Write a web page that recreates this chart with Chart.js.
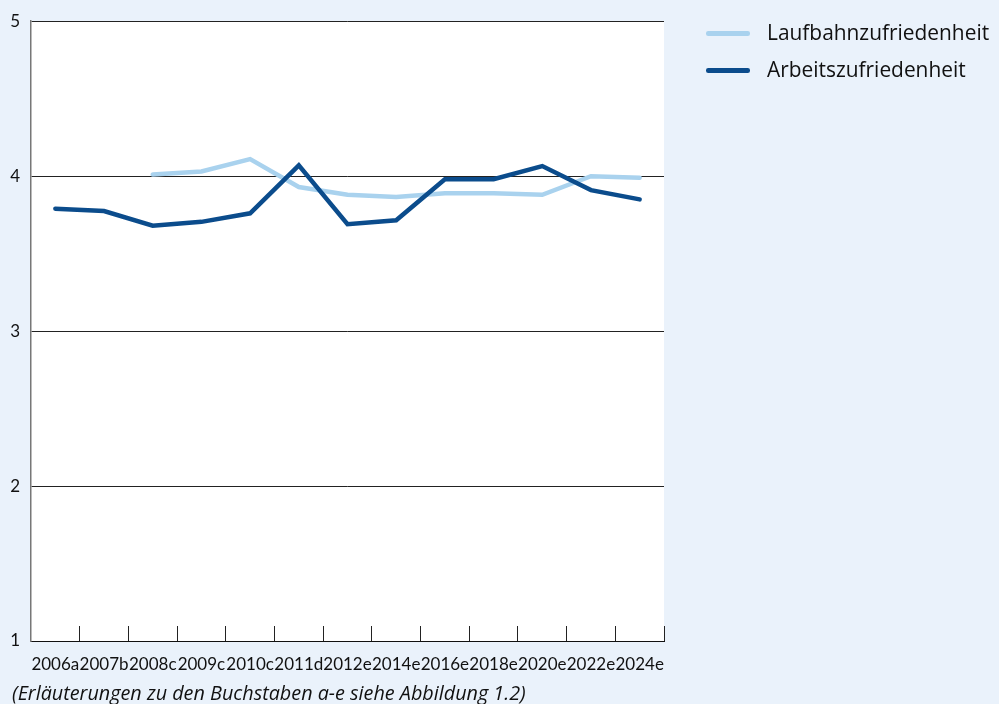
<!DOCTYPE html>
<html>
<head>
<meta charset="utf-8">
<script src="https://cdn.jsdelivr.net/npm/chart.js@4/dist/chart.umd.min.js"></script>
<style>
  html, body { margin: 0; padding: 0; background: #EAF2FB; }
  #wrap { position: relative; width: 999px; height: 704px; overflow: hidden; background: #EAF2FB; }
  canvas { position: absolute; left: 0; top: 0; }
  .leg { position: absolute; left: 706px; font-family: "Open Sans", Lato, sans-serif; font-size: 20.9px; color: #111; }
  .leg span.sw { position: absolute; left: 0; width: 44px; height: 4.5px; border-radius: 2.25px; }
  .leg span.tx { position: absolute; left: 61px; white-space: nowrap; line-height: 24px; top: -13px; }
  #cap { position: absolute; left: 12px; top: 681px; line-height: 24px; font-family: "Open Sans", Lato, sans-serif; font-style: italic; font-size: 19.8px; color: #111; white-space: nowrap; }
</style>
</head>
<body>
<div id="wrap">
  <canvas id="c" width="999" height="704"></canvas>
  <div class="leg" style="top:33px;"><span class="sw" style="top:-2px;background:#A9D2EE;"></span><span class="tx">Laufbahnzufriedenheit</span></div>
  <div class="leg" style="top:70px;"><span class="sw" style="top:-2px;background:#0B4C8C;"></span><span class="tx">Arbeitszufriedenheit</span></div>
  <div id="cap">(Erläuterungen zu den Buchstaben a-e siehe Abbildung 1.2)</div>
</div>
<script>
const categories = ["2006a","2007b","2008c","2009c","2010c","2011d","2012e","2014e","2016e","2018e","2020e","2022e","2024e"];
const laufbahnValues = [null, null, 4.01, 4.03, 4.11, 3.93, 3.88, 3.865, 3.89, 3.89, 3.88, 4.00, 3.99];
const arbeitValues = [3.79, 3.775, 3.68, 3.705, 3.76, 4.07, 3.69, 3.715, 3.98, 3.98, 4.065, 3.91, 3.85];
const yTicks = [1, 2, 3, 4, 5];

const LIGHT = '#A9D2EE';
const DARK = '#0B4C8C';

const bgPlugin = {
  id: 'areaBg',
  beforeDraw(chart) {
    const {ctx, chartArea: a} = chart;
    ctx.save();
    ctx.fillStyle = '#ffffff';
    ctx.fillRect(a.left, a.top, a.right - a.left, a.bottom - a.top);
    ctx.restore();
  }
};

new Chart(document.getElementById('c'), {
  type: 'line',
  data: {
    labels: categories,
    datasets: [
      { label: 'Arbeitszufriedenheit', data: arbeitValues, borderColor: DARK, backgroundColor: DARK,
        borderWidth: 4.5, pointRadius: 0, tension: 0, borderCapStyle: 'round', spanGaps: false },
      { label: 'Laufbahnzufriedenheit', data: laufbahnValues, borderColor: LIGHT, backgroundColor: LIGHT,
        borderWidth: 4.5, pointRadius: 0, tension: 0, borderCapStyle: 'round', spanGaps: false }
    ]
  },
  options: {
    responsive: false,
    animation: false,
    layout: { padding: { top: 21, right: 335, left: 0, bottom: 23 } },
    plugins: { legend: { display: false }, tooltip: { enabled: false } },
    scales: {
      x: {
        offset: true,
        grid: { offset: true, drawOnChartArea: false, drawTicks: true, tickLength: -15, color: '#222', lineWidth: 1 },
        border: { display: true, color: '#111', width: 1 },
        ticks: { autoSkip: false, maxRotation: 0, minRotation: 0, padding: 28, color: '#111',
                 font: { family: 'Lato, "Open Sans", sans-serif', size: 17 } },
        afterFit(scale) { scale.height = 40; }
      },
      y: {
        min: 1, max: 5,
        afterBuildTicks(scale) { scale.ticks = yTicks.map(v => ({ value: v })); },
        grid: { drawTicks: false, color: '#222', lineWidth: 1 },
        border: { display: true, color: '#777', width: 1.5 },
        ticks: { padding: 11, color: '#111', font: { family: 'Lato, "Open Sans", sans-serif', size: 17 } },
        afterFit(scale) { scale.width = 31; }
      }
    }
  },
  plugins: [bgPlugin]
});
</script>
</body>
</html>
